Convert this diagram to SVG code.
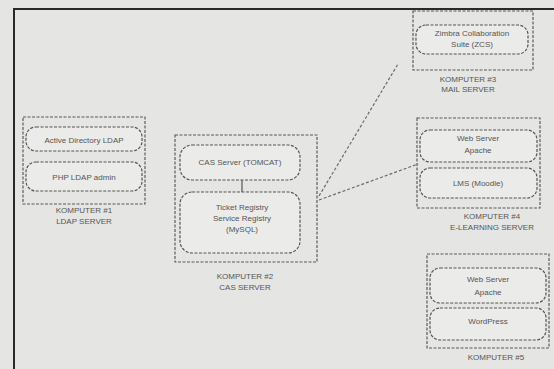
<svg xmlns="http://www.w3.org/2000/svg" width="554" height="369" viewBox="0 0 554 369">
<style>
.bg{fill:#e5e5e3}
.frame{fill:none;stroke:#2a2a2a;stroke-width:2}
.box{fill:none;stroke:#5a5a5a;stroke-width:1.2;stroke-dasharray:3 1.5}
.inner{fill:#ebebe9;stroke:#555;stroke-width:1.2;stroke-dasharray:3 1.5}
.conn{fill:none;stroke:#6a6a6a;stroke-width:1.2;stroke-dasharray:3 2}
.solid{fill:none;stroke:#555;stroke-width:1.2}
text{font-family:"Liberation Sans",Arial,sans-serif;font-size:8px;fill:#555;text-anchor:middle}
</style>
<rect class="bg" x="0" y="0" width="554" height="369"/>
<path class="frame" d="M14,375 V9 H560"/>
<g id="connectors">
<line class="conn" x1="319" y1="196" x2="398" y2="64"/>
<line class="conn" x1="319" y1="200" x2="418" y2="164"/>
<line class="solid" x1="242" y1="180" x2="242" y2="192"/>
</g>
<g id="komputer1">
<rect class="box" x="23" y="117" width="122" height="87"/>
<rect class="inner" x="26" y="127" width="116" height="24" rx="10"/>
<text x="84" y="143">Active Directory LDAP</text>
<rect class="inner" x="26" y="162" width="116" height="29" rx="10"/>
<text x="84" y="180">PHP LDAP admin</text>
<text x="84" y="213">KOMPUTER #1</text>
<text x="84" y="224">LDAP SERVER</text>
</g>
<g id="komputer2">
<rect class="box" x="175" y="135" width="142" height="127"/>
<rect class="inner" x="180" y="145" width="120" height="35" rx="12"/>
<text x="240" y="165">CAS Server (TOMCAT)</text>
<rect class="inner" x="180" y="192" width="120" height="61" rx="12"/>
<text x="242" y="210">Ticket Registry</text>
<text x="242" y="221">Service Registry</text>
<text x="242" y="232">(MySQL)</text>
<text x="245" y="279">KOMPUTER #2</text>
<text x="245" y="290">CAS SERVER</text>
</g>
<g id="komputer3">
<rect class="box" x="413" y="11" width="120" height="59"/>
<rect class="inner" x="416" y="25" width="112" height="29" rx="10"/>
<text x="472" y="36">Zimbra Collaboration</text>
<text x="472" y="47">Suite (ZCS)</text>
<text x="468" y="82">KOMPUTER #3</text>
<text x="468" y="92">MAIL SERVER</text>
</g>
<g id="komputer4">
<rect class="box" x="417" y="118" width="123" height="90"/>
<rect class="inner" x="420" y="130" width="117" height="32" rx="10"/>
<text x="478" y="141">Web Server</text>
<text x="478" y="153">Apache</text>
<rect class="inner" x="420" y="168" width="117" height="30" rx="10"/>
<text x="478" y="186">LMS (Moodle)</text>
<text x="492" y="219">KOMPUTER #4</text>
<text x="492" y="230">E-LEARNING SERVER</text>
</g>
<g id="komputer5">
<rect class="box" x="427" y="254" width="122" height="94"/>
<rect class="inner" x="430" y="268" width="116" height="35" rx="10"/>
<text x="488" y="282">Web Server</text>
<text x="488" y="295">Apache</text>
<rect class="inner" x="430" y="308" width="116" height="32" rx="10"/>
<text x="488" y="324">WordPress</text>
<text x="496" y="360">KOMPUTER #5</text>
</g>
</svg>
